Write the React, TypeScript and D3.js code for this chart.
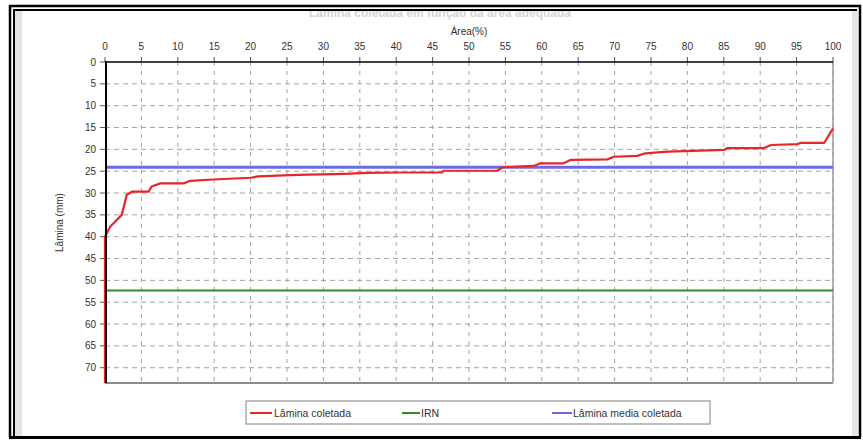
import React from "react";
import * as d3 from "d3";

// Cumulative area (%) against collected water depth (mm)
const areaPct: number[] = [0, 0, 0.7, 2.3, 3.0, 3.7, 6.0, 6.4, 7.6, 10.8, 11.7, 14.9, 20, 21, 25.4, 28, 33, 36, 40.6, 46.3, 46.5, 53.9, 54.6, 58.9, 59.8, 63, 64, 69, 69.9, 73.1, 74, 75.9, 77.3, 81.8, 85.1, 85.5, 90.5, 91.5, 95.1, 95.6, 98.8, 100];
const laminaColetada: number[] = [73.5, 40, 37.7, 35, 30.4, 29.7, 29.7, 28.5, 27.8, 27.8, 27.2, 26.9, 26.5, 26.2, 25.9, 25.8, 25.6, 25.4, 25.3, 25.3, 24.9, 24.9, 24.1, 23.8, 23.2, 23.2, 22.4, 22.3, 21.7, 21.5, 21.0, 20.7, 20.5, 20.3, 20.1, 19.7, 19.7, 19.0, 18.8, 18.5, 18.5, 15.2];
const irn = 52.3;
const laminaMedia = 24.1;

const xTicks: number[] = d3.range(0, 101, 5);
const yTicks: number[] = d3.range(0, 71, 5);
const legendLabels: string[] = ["Lâmina coletada", "IRN", "Lâmina media coletada"];

const W = 863;
const H = 440;
const left = 105;
const right = 833;
const top = 62;
const bottom = 383;

export default function App() {
  const x = d3.scaleLinear().domain([0, 100]).range([left, right]);
  const y = d3.scaleLinear().domain([0, 73.5]).range([top, bottom]);

  const pts: [number, number][] = areaPct.map((a, i) => [a, laminaColetada[i]]);
  const line = d3
    .line<[number, number]>()
    .x((d) => x(d[0]))
    .y((d) => y(d[1]));

  const font = "'Liberation Sans', Arial, sans-serif";
  const gridColor = "#a4a4a4";

  return (
    <svg
      width={W}
      height={H}
      style={{ position: "absolute", left: 0, top: 0, background: "#fff" }}
      fontFamily={font}
    >
      <rect x={0} y={0} width={W} height={H} fill="#fff" />
      {/* faded chart title, its upper half tucked behind the frame */}
      <text x={440} y={17} textAnchor="middle" fontSize={12} fill="#d4d4d4" fontWeight="bold">
        Lâmina coletada em função da área adequada
      </text>
      <rect x={14} y={0} width={844} height={11} fill="#fff" />

      {/* side shading strips */}
      <rect x={15} y={11} width={7} height={425} fill="#e2e2e2" />
      <rect x={852} y={11} width={6} height={425} fill="#e6e6e6" />

      {/* frame */}
      <path d={`M10,437 V6 H860 V437`} fill="none" stroke="#000" strokeWidth={2.5} />
      <path d={`M14,437 V10 H857`} fill="none" stroke="#000" strokeWidth={2} />
      <line x1={9} x2={861} y1={437.5} y2={437.5} stroke="#000" strokeWidth={3} />

      {/* axis titles */}
      <text x={(left + right) / 2} y={35} textAnchor="middle" fontSize={10} fill="#333">
        Área(%)
      </text>
      <text
        transform={`translate(63,${(top + bottom) / 2}) rotate(-90)`}
        textAnchor="middle"
        fontSize={10}
        fill="#333"
      >
        Lâmina (mm)
      </text>

      {/* grid */}
      {xTicks.slice(1).map((t) => (
        <line key={"gx" + t} x1={x(t)} x2={x(t)} y1={top} y2={bottom} stroke={gridColor} strokeDasharray="4,5" strokeWidth={1} />
      ))}
      {yTicks.slice(1).map((t) => (
        <line key={"gy" + t} x1={left} x2={right} y1={y(t)} y2={y(t)} stroke={gridColor} strokeDasharray="5,4" strokeWidth={1} />
      ))}

      {/* plot border (bottom/right) */}
      <line x1={left} x2={right} y1={bottom} y2={bottom} stroke="#8a8a8a" strokeWidth={2} />
      <line x1={right} x2={right} y1={top} y2={bottom} stroke="#9a9a9a" strokeWidth={1.5} />

      {/* top axis ticks and labels */}
      {xTicks.map((t) => (
        <g key={"tx" + t}>
          <line x1={x(t)} x2={x(t)} y1={top - 5} y2={top} stroke="#555" strokeWidth={1} />
          <text x={x(t)} y={50} textAnchor="middle" fontSize={10} fill="#333">
            {t}
          </text>
        </g>
      ))}
      {/* left axis ticks and labels */}
      {yTicks.map((t) => (
        <g key={"ty" + t}>
          <line x1={left - 5} x2={left} y1={y(t)} y2={y(t)} stroke="#555" strokeWidth={1} />
          <text x={96} y={y(t) + 3.5} textAnchor="end" fontSize={10} fill="#333">
            {t}
          </text>
        </g>
      ))}

      {/* reference lines */}
      <line x1={left} x2={right} y1={y(irn)} y2={y(irn)} stroke="#2e8b2e" strokeWidth={2} />
      <line x1={left} x2={right} y1={y(laminaMedia)} y2={y(laminaMedia)} stroke="#6a6ae6" strokeWidth={3} />

      {/* collected depth curve */}
      <path d={line(pts) || ""} fill="none" stroke="#e8262a" strokeWidth={2.2} strokeLinejoin="round" />

      {/* axis lines */}
      <line x1={left + 1} x2={left + 1} y1={top - 1} y2={bottom} stroke="#000" strokeWidth={2} />
      <line x1={left} x2={right} y1={top} y2={top} stroke="#000" strokeWidth={1.5} />

      {/* legend */}
      <rect x={246} y={401} width={464} height={23} fill="#fff" stroke="#808080" strokeWidth={1} />
      <line x1={250} x2={272} y1={413} y2={413} stroke="#e8262a" strokeWidth={2} />
      <text x={274} y={416.5} fontSize={10.5} fill="#333">{legendLabels[0]}</text>
      <line x1={402} x2={420} y1={413} y2={413} stroke="#2e8b2e" strokeWidth={2} />
      <text x={421} y={416.5} fontSize={10.5} fill="#333">{legendLabels[1]}</text>
      <line x1={552} x2={572} y1={413} y2={413} stroke="#6a6ae6" strokeWidth={2} />
      <text x={573} y={416.5} fontSize={10.5} fill="#333">{legendLabels[2]}</text>
    </svg>
  );
}
